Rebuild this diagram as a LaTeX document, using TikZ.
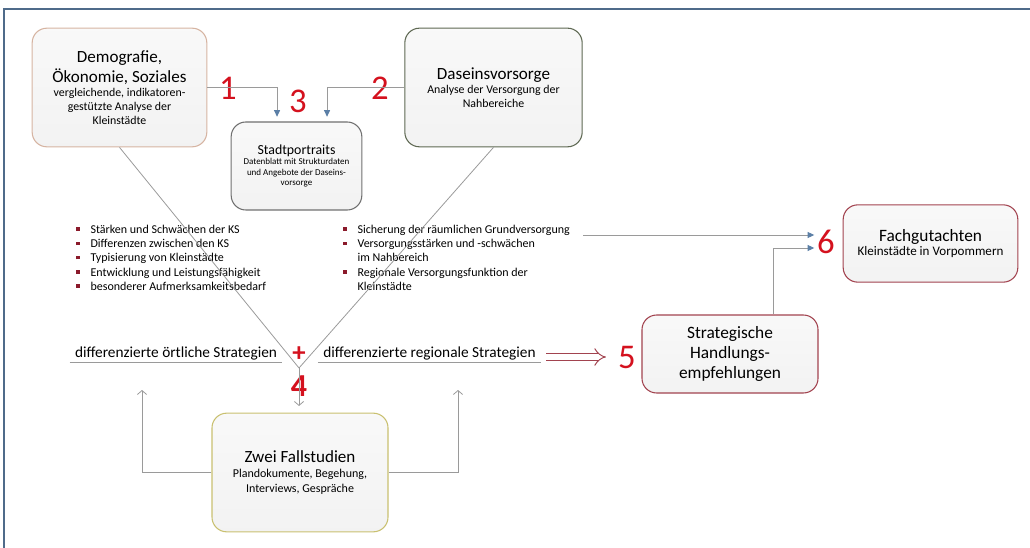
\documentclass[tikz,border=0pt]{standalone}
\usepackage{fontspec}
\setmainfont{Carlito}
\usetikzlibrary{arrows.meta}
\definecolor{demoedge}{HTML}{D6B4A2}
\definecolor{daseinedge}{HTML}{5E6852}
\definecolor{portraitedge}{HTML}{707070}
\definecolor{redge}{HTML}{A2434F}
\definecolor{falledge}{HTML}{C9C070}
\definecolor{tipblue}{HTML}{5B7FA6}
\definecolor{linegray}{HTML}{9A9A9A}
\definecolor{numred}{HTML}{D4111E}
\definecolor{frameblue}{HTML}{4F6B8A}
\definecolor{bulletred}{HTML}{8B1A2B}
\newcommand\bigtxt{\fontsize{12.8}{15.5}\selectfont}
\newcommand\smalltxt{\fontsize{8.9}{10.5}\selectfont}
\newcommand\rsq{\textcolor{bulletred}{\rule[0.2em]{2.7pt}{2.7pt}}}
\frenchspacing

\begin{document}
\begin{tikzpicture}[x=0.75pt, y=-0.75pt]
  \tikzstyle{box} = [rectangle, draw, line width=0.8pt, rounded corners=11pt, align=flush center,
                     inner sep=3pt, top color=gray!5, bottom color=gray!10]
  \tikzstyle{num} = [text=numred, font=\fontsize{26}{26}\selectfont, inner sep=0pt]
  \tikzstyle{flow} = [draw=linegray, line width=0.7pt, -{Triangle[length=5pt, width=4.5pt, color=tipblue]}]
  \tikzstyle{back} = [draw=linegray, line width=0.6pt, -{Straight Barb[length=3pt, width=7pt]}]
  \tikzstyle{list} = [anchor=north west, inner sep=0pt, font=\fontsize{9}{10.7}\selectfont]
  \tikzstyle{strategy} = [inner sep=0pt, font=\fontsize{11.5}{13}\selectfont]
  \tikzstyle{darrow} = [draw=redge, line width=0.7pt, double=white, double distance=4pt, -{Implies}]
\useasboundingbox (0,0) rectangle (1030,548);
\draw[frameblue, line width=0.8pt] (4,548) -- (4,9) -- (1030,9);
% boxes
\node[box, draw=demoedge, minimum width=131pt, minimum height=89pt, text width=124pt] (demo) at (119.5,87.5)
  {{\bigtxt Demografie,\\Ökonomie, Soziales\par}{\smalltxt vergleichende, indikatoren-\\gestützte Analyse der\\Kleinstädte\par}};
\node[box, draw=daseinedge, minimum width=133pt, minimum height=89pt, text width=126pt] (dasein) at (493.5,87.5)
  {{\bigtxt Daseinsvorsorge\par}{\smalltxt Analyse der Versorgung der\\Nahbereiche\par}};
\node[box, draw=portraitedge, minimum width=98pt, minimum height=66pt, text width=92pt] (portrait) at (296.5,166)
  {{\fontsize{10.4}{11.5}\selectfont Stadtportraits\par}{\fontsize{6.75}{7.6}\selectfont Datenblatt mit Strukturdaten\\und Angebote der Daseins-\\vorsorge\par}};
\node[box, draw=redge, minimum width=131pt, minimum height=58pt, text width=124pt] (fach) at (930.5,243.5)
  {{\fontsize{13}{15.5}\selectfont Fachgutachten\par}{\fontsize{9.8}{11}\selectfont Kleinstädte in Vorpommern\par}};
\node[box, draw=redge, minimum width=132pt, minimum height=58.5pt, text width=125pt] (strat) at (730,354)
  {{\fontsize{13}{15}\selectfont Strategische\\Handlungs-\\empfehlungen\par}};
\node[box, draw=falledge, minimum width=132pt, minimum height=89pt, text width=125pt] (fall) at (300,472.5)
  {{\bigtxt Zwei Fallstudien\par}{\fontsize{9}{11}\selectfont Plandokumente, Begehung,\\Interviews, Gespräche\par}};
% numbers
\node[num] (n1) at (228,88) {1};
\node[num] (n2) at (380,88) {2};
\node[num] (n3) at (298,101) {3};
\node[num, font=\fontsize{24}{24}\selectfont\bfseries] (n4) at (299,386) {4};
\node[num, font=\fontsize{20}{20}\selectfont\bfseries] (plus) at (299,354) {+};
\node[num] (n5) at (627,357) {5};
\node[num] (n6) at (826,242) {6};
% lists
\node[list] (lstrength) at (76,223) {\begin{tabular}{@{}l@{\hspace{8pt}}l@{}}
  \rsq & Stärken und Schwächen der KS\\
  \rsq & Differenzen zwischen den KS\\
  \rsq & Typisierung von Kleinstädte\\
  \rsq & Entwicklung und Leistungsfähigkeit\\
  \rsq & besonderer Aufmerksamkeitsbedarf
  \end{tabular}};
\node[list] (lsupply) at (343,223) {\begin{tabular}{@{}l@{\hspace{8pt}}l@{}}
  \rsq & Sicherung der räumlichen Grundversorgung\\
  \rsq & Versorgungsstärken und -schwächen\\
       & im Nahbereich\\
  \rsq & Regionale Versorgungsfunktion der\\
       & Kleinstädte
  \end{tabular}};
% strategies
\node[strategy, minimum width=159pt] (lok) at (176,353) {differenzierte örtliche Strategien};
\node[strategy, minimum width=167pt] (reg) at (429.5,353) {differenzierte regionale Strategien};
\draw[linegray, line width=0.7pt] ([yshift=-6.75pt]lok.west) -- ([yshift=-6.75pt]lok.east);
\draw[linegray, line width=0.7pt] ([yshift=-6.75pt]reg.west) -- ([yshift=-6.75pt]reg.east);
\coordinate (meet) at (299,368);
\coordinate (gv) at (583,235);
\coordinate (dstart) at (546,357);
\coordinate (lokin) at (142,390);
\coordinate (regin) at (458,390);
% connectors
\draw[flow] (demo.east) -| ([xshift=-14.6pt, yshift=3.5pt]portrait.north);
\draw[flow] (dasein.west) -| ([xshift=22.9pt, yshift=3.5pt]portrait.north);
\draw[linegray, line width=0.6pt] (demo.south) -- (meet);
\draw[linegray, line width=0.6pt] (dasein.south) -- (meet);
\draw[back, shorten >=5pt] (meet) -- (meet |- fall.north);
\draw[flow, shorten >=2pt] (gv) -- (gv -| n6.west);
\draw[flow, shorten >=2pt] ([xshift=32.25pt]strat.north) |- ([yshift=-4.5pt]n6.west);
\draw[darrow] (dstart) -- ([xshift=-9pt]n5.west);
\draw[back] (fall.west) -| (lokin);
\draw[back] (fall.east) -| (regin);
\end{tikzpicture}
\end{document}
